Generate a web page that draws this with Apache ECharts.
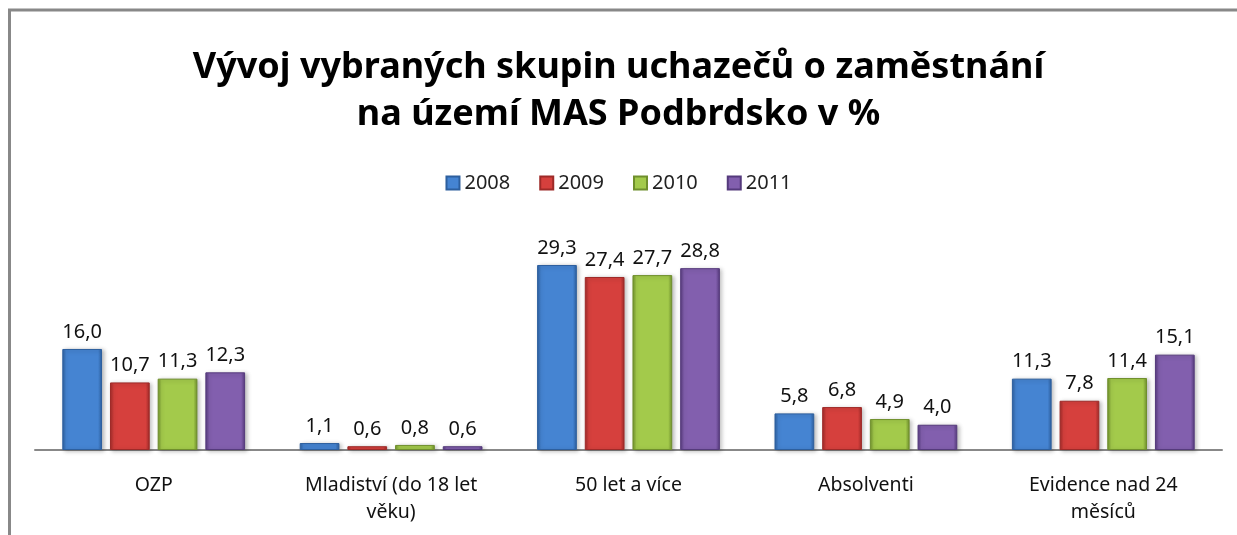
<!DOCTYPE html>
<html>
<head>
<meta charset="utf-8">
<script src="https://cdn.jsdelivr.net/npm/echarts@6/dist/echarts.min.js"></script>
<style>
  html, body { margin: 0; padding: 0; background: #fff; }
  #chart { width: 1237px; height: 535px; }
</style>
</head>
<body>
<div id="chart"></div>
<script>
// data
const categories = ['OZP', 'Mladiství (do 18 let\nvěku)', '50 let a více', 'Absolventi', 'Evidence nad 24\nměsíců'];
const years = ['2008', '2009', '2010', '2011'];
const v2008 = [16.0, 1.1, 29.3, 5.8, 11.3];
const v2009 = [10.7, 0.6, 27.4, 6.8, 7.8];
const v2010 = [11.3, 0.8, 27.7, 4.9, 11.4];
const v2011 = [12.3, 0.6, 28.8, 4.0, 15.1];
const values = [v2008, v2009, v2010, v2011];

// base / dark colour per year (office style bevelled bars)
const colors = [
  ['#4584d2', '#2d5f9e'],
  ['#d6403d', '#9e2a28'],
  ['#a3ca4b', '#6f8f2c'],
  ['#825fae', '#553a7c']
];

const font = 'Noto Sans, sans-serif';

function barColor(c) {
  return new echarts.graphic.LinearGradient(0, 0, 1, 0, [
    { offset: 0, color: c[1] },
    { offset: 0.1, color: c[0] },
    { offset: 0.9, color: c[0] },
    { offset: 1, color: c[1] }
  ]);
}

const chart = echarts.init(document.getElementById('chart'));

const series = years.map(function (y, i) {
  return {
    name: y,
    type: 'bar',
    data: values[i],
    barGap: '20%',
    barCategoryGap: '23%',
    itemStyle: {
      color: barColor(colors[i]),
      borderColor: colors[i][1],
      borderWidth: 1,
      shadowColor: 'rgba(0,0,0,0.25)',
      shadowBlur: 4,
      shadowOffsetX: 2,
      shadowOffsetY: 1
    },
    label: {
      show: true,
      position: 'top',
      distance: 7,
      color: '#111',
      fontFamily: font,
      fontSize: 20,
      formatter: function (p) { return p.value.toFixed(1).replace('.', ','); }
    }
  };
});

const option = {
  backgroundColor: '#fff',
  animation: false,
  title: {
    text: 'Vývoj vybraných skupin uchazečů o zaměstnání\nna území MAS Podbrdsko v %',
    left: 'center',
    top: 39,
    textStyle: {
      fontFamily: font,
      fontWeight: 'bold',
      fontSize: 36,
      lineHeight: 47,
      color: '#000'
    }
  },
  legend: {
    top: 168,
    left: 'center',
    icon: 'rect',
    itemWidth: 13,
    itemHeight: 13,
    itemGap: 29,
    textStyle: { fontFamily: font, fontSize: 20, color: '#222' },
    data: years
  },
  grid: { left: 35, right: 15, top: 229, bottom: 85 },
  xAxis: {
    type: 'category',
    data: categories,
    axisLine: { lineStyle: { color: '#888', width: 2 } },
    axisTick: { show: false },
    axisLabel: {
      margin: 22,
      fontFamily: font,
      fontSize: 19.5,
      lineHeight: 27,
      color: '#111',
      interval: 0
    }
  },
  yAxis: {
    type: 'value',
    min: 0,
    max: 35,
    show: false,
    splitLine: { show: false }
  },
  series: series,
  graphic: [
    { type: 'line', shape: { x1: 8, y1: 10, x2: 1237, y2: 10 }, style: { stroke: '#888', lineWidth: 3 } },
    { type: 'line', shape: { x1: 9.5, y1: 9, x2: 9.5, y2: 535 }, style: { stroke: '#888', lineWidth: 3 } }
  ]
};

chart.setOption(option);
</script>
</body>
</html>
